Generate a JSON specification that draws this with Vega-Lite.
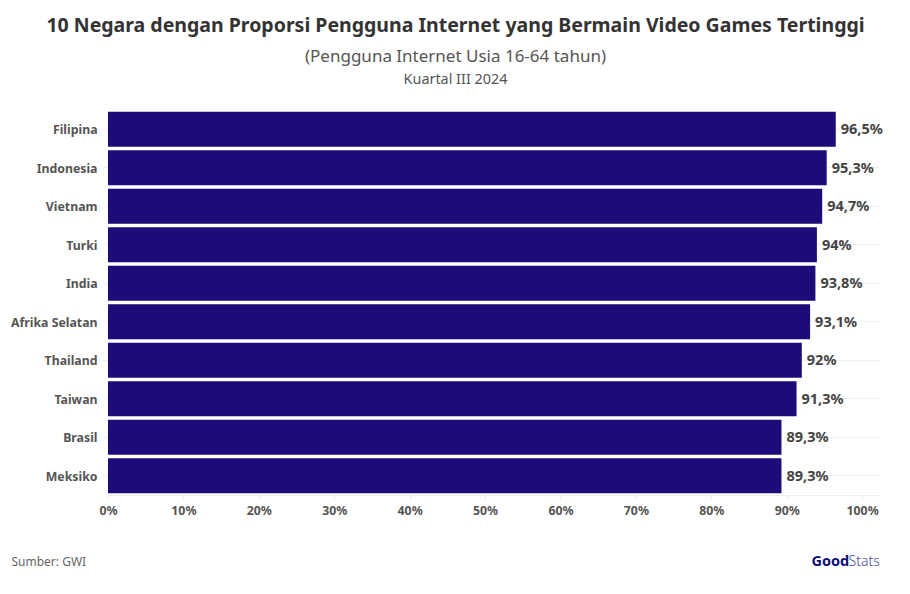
{
  "$schema": "https://vega.github.io/schema/vega-lite/v6.json",
  "width": 773,
  "height": 385,
  "autosize": "none",
  "padding": {"left": 108, "top": 110, "right": 29, "bottom": 99},
  "background": "white",
  "title": {
    "text": "10 Negara dengan Proporsi Pengguna Internet yang Bermain Video Games Tertinggi",
    "subtitle": "(Pengguna Internet Usia 16-64 tahun)",
    "anchor": "middle",
    "dx": -39,
    "offset": 5,
    "font": "Noto Sans",
    "fontSize": 19.5,
    "fontWeight": "bold",
    "color": "#333333",
    "subtitleFont": "Noto Sans",
    "subtitleFontSize": 17,
    "subtitleColor": "#555555",
    "subtitlePadding": 13
  },
  "data": {
    "values": [
      {"negara": "Filipina", "proporsi": 96.5, "label": "96,5%"},
      {"negara": "Indonesia", "proporsi": 95.3, "label": "95,3%"},
      {"negara": "Vietnam", "proporsi": 94.7, "label": "94,7%"},
      {"negara": "Turki", "proporsi": 94, "label": "94%"},
      {"negara": "India", "proporsi": 93.8, "label": "93,8%"},
      {"negara": "Afrika Selatan", "proporsi": 93.1, "label": "93,1%"},
      {"negara": "Thailand", "proporsi": 92, "label": "92%"},
      {"negara": "Taiwan", "proporsi": 91.3, "label": "91,3%"},
      {"negara": "Brasil", "proporsi": 89.3, "label": "89,3%"},
      {"negara": "Meksiko", "proporsi": 89.3, "label": "89,3%"}
    ]
  },
  "encoding": {
    "x": {
      "field": "proporsi",
      "type": "quantitative",
      "scale": {"domain": [0, 102.5], "nice": false}
    },
    "y": {
      "field": "negara",
      "type": "nominal",
      "sort": null,
      "scale": {"paddingInner": 0.09, "paddingOuter": 0.045}
    }
  },
  "layer": [
    {
      "mark": {"type": "bar", "color": "#1e0a78"},
      "encoding": {
        "x": {
          "field": "proporsi",
          "type": "quantitative",
          "axis": {
            "values": [0, 10, 20, 30, 40, 50, 60, 70, 80, 90, 100],
            "labelExpr": "datum.value + '%'",
            "labelFlush": false,
            "labelFont": "Noto Sans",
            "labelFontSize": 12.3,
            "labelFontWeight": "bold",
            "labelColor": "#555555",
            "labelPadding": 4,
            "domainColor": "#eeeeee",
            "tickColor": "#eeeeee",
            "tickSize": 5,
            "grid": false,
            "title": "Sumber: GWI",
            "titleFont": "Noto Sans",
            "titleFontSize": 12,
            "titleFontWeight": "normal",
            "titleColor": "#666666",
            "titleAlign": "left",
            "titleBaseline": "middle",
            "titleX": -97,
            "titleY": 66
          }
        },
        "y": {
          "field": "negara",
          "type": "nominal",
          "sort": null,
          "axis": {
            "labelFont": "Noto Sans",
            "labelFontSize": 12.3,
            "labelFontWeight": "bold",
            "labelColor": "#555555",
            "labelPadding": 6,
            "labelOffset": 1,
            "domain": false,
            "tickColor": "#eeeeee",
            "tickSize": 5,
            "grid": true,
            "gridColor": "#f0f0f0",
            "title": "Good",
            "titleFont": "Noto Sans",
            "titleFontSize": 14.5,
            "titleFontWeight": "bold",
            "titleColor": "#0b0f7a",
            "titleAngle": 0,
            "titleAlign": "left",
            "titleBaseline": "middle",
            "titleX": 703,
            "titleY": 451
          }
        }
      }
    },
    {
      "mark": {
        "type": "text",
        "align": "left",
        "baseline": "middle",
        "dx": 5,
        "dy": 1,
        "font": "Noto Sans",
        "fontSize": 14.5,
        "fontWeight": "bold",
        "color": "#444444"
      },
      "encoding": {
        "x": {
          "field": "proporsi",
          "type": "quantitative",
          "axis": {
            "orient": "top",
            "labels": false,
            "ticks": false,
            "domain": false,
            "grid": false,
            "title": "Kuartal III 2024",
            "titleFont": "Noto Sans",
            "titleFontSize": 14.4,
            "titleFontWeight": "normal",
            "titleColor": "#555555",
            "titleAlign": "center",
            "titleBaseline": "middle",
            "titleX": 347,
            "titleY": -31
          }
        },
        "y": {
          "field": "negara",
          "type": "nominal",
          "sort": null,
          "axis": {
            "orient": "right",
            "labels": false,
            "ticks": false,
            "domain": false,
            "grid": false,
            "title": "Stats",
            "titleFont": "Noto Sans",
            "titleFontSize": 14,
            "titleFontWeight": 300,
            "titleColor": "#4a4a9a",
            "titleAngle": 0,
            "titleAlign": "left",
            "titleBaseline": "middle",
            "titleX": -33,
            "titleY": 451
          }
        },
        "text": {"field": "label", "type": "nominal"}
      }
    }
  ],
  "resolve": {"axis": {"x": "independent", "y": "independent"}},
  "config": {"view": {"stroke": null}}
}
